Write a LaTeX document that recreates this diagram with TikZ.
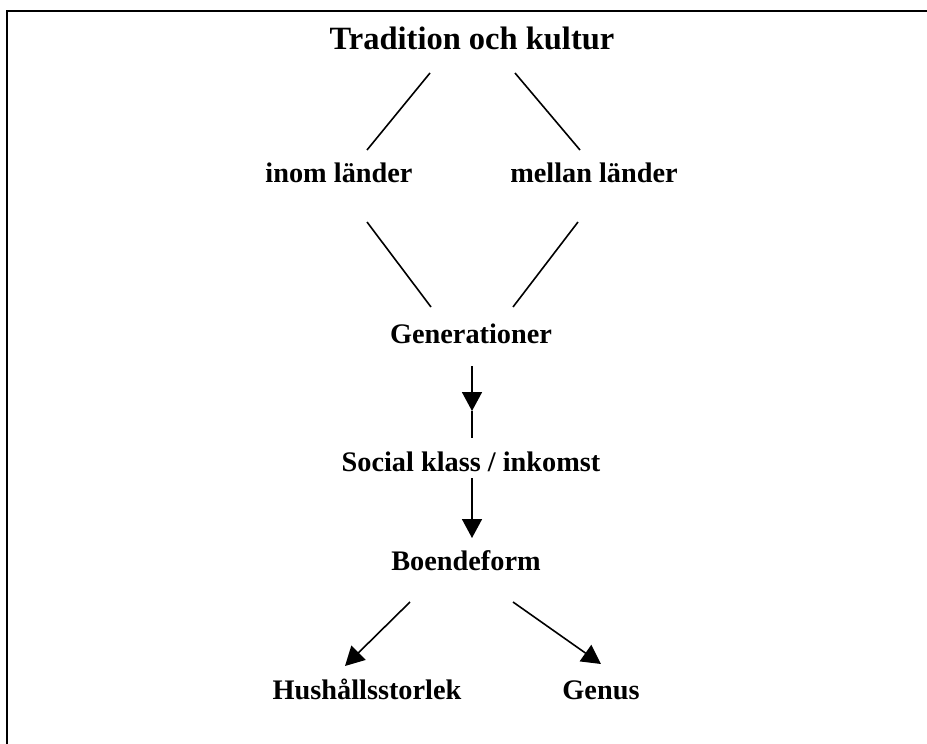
\documentclass[tikz,border=0pt]{standalone}
\usepackage{fontspec}
\setmainfont{Liberation Serif}
\usetikzlibrary{arrows.meta}
\begin{document}
\begin{tikzpicture}[x=1pt,y=-1pt,
  lbl/.style={font=\bfseries\fontsize{28.3}{33}\selectfont, anchor=base, inner sep=0pt},
  ttl/.style={font=\bfseries\fontsize{32.5}{38}\selectfont, anchor=base, inner sep=0pt},
  conn/.style={line width=1.6pt, black},
  arr/.style={conn, -{Triangle[length=19pt,width=20pt]}}]
\useasboundingbox (0,0) rectangle (927,744);
\draw[line width=2.8pt] (7,744) -- (7,11) -- (927,11);
% nodes
\node[ttl] (title) at (472,49) {Tradition och kultur};
\node[lbl] (inom) at (339,182) {inom länder};
\node[lbl] (mellan) at (594,182) {mellan länder};
\node[lbl] (gen) at (471,343) {Generationer};
\node[lbl] (soc) at (471,471) {Social klass / inkomst};
\node[lbl] (boe) at (466,570) {Boendeform};
\node[lbl] (hus) at (367,699) {Hushållsstorlek};
\node[lbl] (genus) at (601,699) {Genus};
% connector endpoints
\coordinate (t1) at (430,73);
\coordinate (i1) at (367,150);
\coordinate (t2) at (515,73);
\coordinate (m1) at (580,150);
\coordinate (i2) at (367,222);
\coordinate (g1) at (431,307);
\coordinate (m2) at (578,222);
\coordinate (g2) at (513,307);
\coordinate (g3) at (472,366);
\coordinate (gm) at (472,411);
\coordinate (s1) at (472,438);
\coordinate (s2) at (472,478);
\coordinate (b1) at (472,538);
\coordinate (b2) at (410,602);
\coordinate (h1) at (345,666);
\coordinate (b3) at (513,602);
\coordinate (n1) at (601,664);
% connectors
\draw[conn] (t1) -- (i1);
\draw[conn] (t2) -- (m1);
\draw[conn] (i2) -- (g1);
\draw[conn] (m2) -- (g2);
\draw[arr] (g3) -- (gm);
\draw[conn] (gm) -- (s1);
\draw[arr] (s2) -- (b1);
\draw[arr] (b2) -- (h1);
\draw[arr] (b3) -- (n1);
\end{tikzpicture}
\end{document}
